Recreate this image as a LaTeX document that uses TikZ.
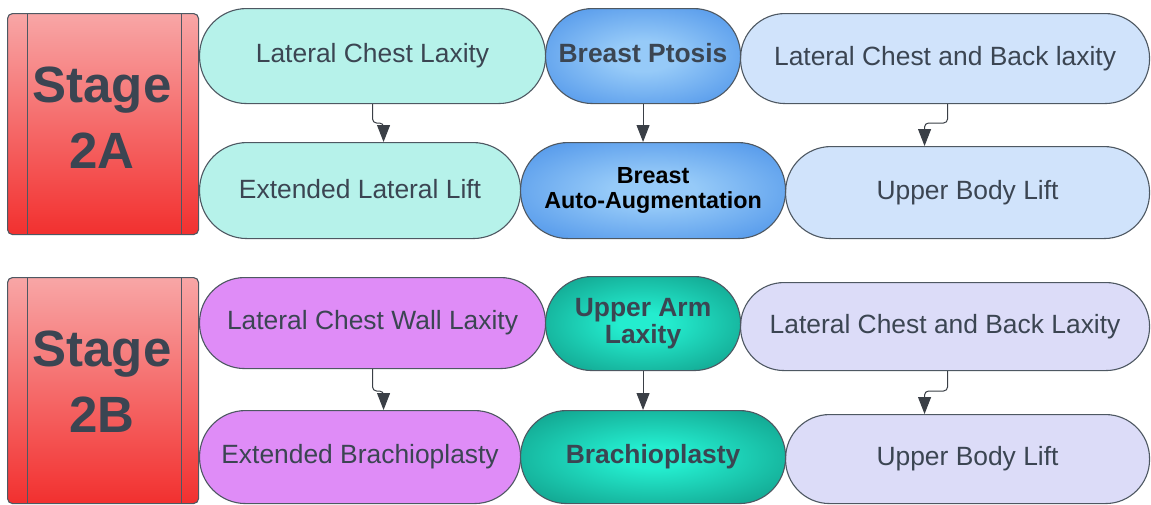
\documentclass[tikz,border=0pt]{standalone}
\usepackage{fontspec}
\setmainfont{Liberation Sans}
\usetikzlibrary{arrows.meta}
\definecolor{txt}{HTML}{3B4552}
\definecolor{edge}{HTML}{4E5862}
\definecolor{aqua}{HTML}{B6F2EA}
\definecolor{skyb}{HTML}{D0E3FB}
\definecolor{lav}{HTML}{DCDCF8}
\definecolor{purp}{HTML}{DF8CF7}
\definecolor{bluein}{HTML}{96CAF8}
\definecolor{blueout}{HTML}{2F7DE3}
\definecolor{tealin}{HTML}{24EDCF}
\definecolor{tealout}{HTML}{0A8372}
\definecolor{redtop}{HTML}{F8A6A6}
\definecolor{redbot}{HTML}{F2302F}
\definecolor{arr}{HTML}{3A3F46}
\pgfdeclareradialshading{softblue}{\pgfpoint{0bp}{0bp}}{color(0bp)=(bluein); color(8bp)=(bluein); color(46bp)=(blueout); color(50bp)=(blueout)}
\pgfdeclareradialshading{softteal}{\pgfpoint{0bp}{0bp}}{color(0bp)=(tealin); color(6bp)=(tealin); color(44bp)=(tealout); color(50bp)=(tealout)}
\tikzset{
  pill/.style={draw=edge, line width=1.1pt, inner sep=0pt, align=center,
    text=txt, anchor=north west, font=\fontsize{26.4}{30}\selectfont},
  boldpill/.style={pill, font=\bfseries\fontsize{26.4}{30}\selectfont},
  bluepill/.style={shade, shading=softblue},
  tealpill/.style={shade, shading=softteal},
  stagebox/.style={draw=edge, line width=1.1pt, rounded corners=5pt, inner sep=0pt,
    anchor=north west, top color=redtop, bottom color=redbot,
    minimum width=191pt},
  stagetext/.style={align=center, text=txt, inner sep=0pt,
    font=\bfseries\fontsize{51}{66}\selectfont},
  conn/.style={draw=arr, line width=1pt, rounded corners=4pt,
    -{Triangle[length=17pt,width=13pt]}},
}
\begin{document}
\begin{tikzpicture}[x=1pt,y=-1pt]
\useasboundingbox[fill=white] (0,0) rectangle (1151,504);

% ---------- Stage 2A ----------
\node[stagebox, minimum height=221pt] (s2a) at (7,13) {};
\draw[edge, line width=1pt] ([xshift=20pt]s2a.north west) -- ([xshift=20pt]s2a.south west);
\draw[edge, line width=1pt] ([xshift=-18pt]s2a.north east) -- ([xshift=-18pt]s2a.south east);
\node[stagetext] (s2at) at ([xshift=-1pt,yshift=6pt]s2a.center) {Stage\\2A};

\node[pill, fill=aqua, minimum width=346pt, minimum height=95pt, rounded corners=47pt] (lcl) at (199,8) {Lateral Chest Laxity};
\node[pill, fill=skyb, minimum width=409pt, minimum height=90pt, rounded corners=44.5pt] (lcb) at (740,13) {Lateral Chest and Back laxity};
\node[boldpill, bluepill, minimum width=195pt, minimum height=95pt, rounded corners=47pt] (bp) at (545,8) {\raisebox{6pt}{Breast Ptosis}};

\node[pill, fill=aqua, minimum width=321pt, minimum height=96pt, rounded corners=47.5pt] (ell) at (199,142) {\raisebox{3pt}{Extended Lateral Lift}};
\node[pill, fill=skyb, minimum width=364pt, minimum height=92pt, rounded corners=45.5pt] (ubl) at (785,146) {\raisebox{3pt}{Upper Body Lift}};
\node[pill, bluepill, text=black, font=\bfseries\fontsize{23.3}{25}\selectfont, minimum width=265pt, minimum height=96pt, rounded corners=47.5pt] (baa) at (520,142) {Breast\\Auto-Augmentation};

\draw[conn] (lcl.south) |- ([xshift=23.5pt,yshift=19pt]ell.north) -- ([xshift=23.5pt]ell.north);
\draw[conn] (bp.south) -- (bp.south |- baa.north);
\draw[conn] ([xshift=2.5pt]lcb.south) |- ([xshift=-43pt,yshift=23pt]ubl.north) -- ([xshift=-43pt]ubl.north);

% ---------- Stage 2B ----------
\node[stagebox, minimum height=226pt] (s2b) at (7,277) {};
\draw[edge, line width=1pt] ([xshift=20pt]s2b.north west) -- ([xshift=20pt]s2b.south west);
\draw[edge, line width=1pt] ([xshift=-18pt]s2b.north east) -- ([xshift=-18pt]s2b.south east);
\node[stagetext] (s2bt) at ([xshift=-1pt,yshift=9pt]s2b.center) {Stage\\2B};

\node[pill, fill=purp, minimum width=346pt, minimum height=91pt, rounded corners=45pt] (lcw) at (199,277) {\raisebox{3pt}{Lateral Chest Wall Laxity}};
\node[pill, fill=lav, minimum width=409pt, minimum height=88pt, rounded corners=43.5pt] (lcb2) at (740,282) {\raisebox{3pt}{Lateral Chest and Back Laxity}};
\node[boldpill, tealpill, minimum width=195pt, minimum height=94pt, rounded corners=46.5pt] (ual) at (545,276) {\raisebox{3pt}{\shortstack{Upper Arm\\Laxity}}};

\node[pill, fill=purp, minimum width=321pt, minimum height=93pt, rounded corners=46pt] (eb) at (199,410) {Extended Brachioplasty};
\node[pill, fill=lav, minimum width=364pt, minimum height=89pt, rounded corners=44pt] (ubl2) at (785,414) {Upper Body Lift};
\node[boldpill, tealpill, minimum width=265pt, minimum height=93pt, rounded corners=46pt] (br) at (520,410) {Brachioplasty};

\draw[conn] (lcw.south) |- ([xshift=23.5pt,yshift=19pt]eb.north) -- ([xshift=23.5pt]eb.north);
\draw[conn] (ual.south) -- (ual.south |- br.north);
\draw[conn] ([xshift=2.5pt]lcb2.south) |- ([xshift=-43pt,yshift=23pt]ubl2.north) -- ([xshift=-43pt]ubl2.north);
\end{tikzpicture}
\end{document}
